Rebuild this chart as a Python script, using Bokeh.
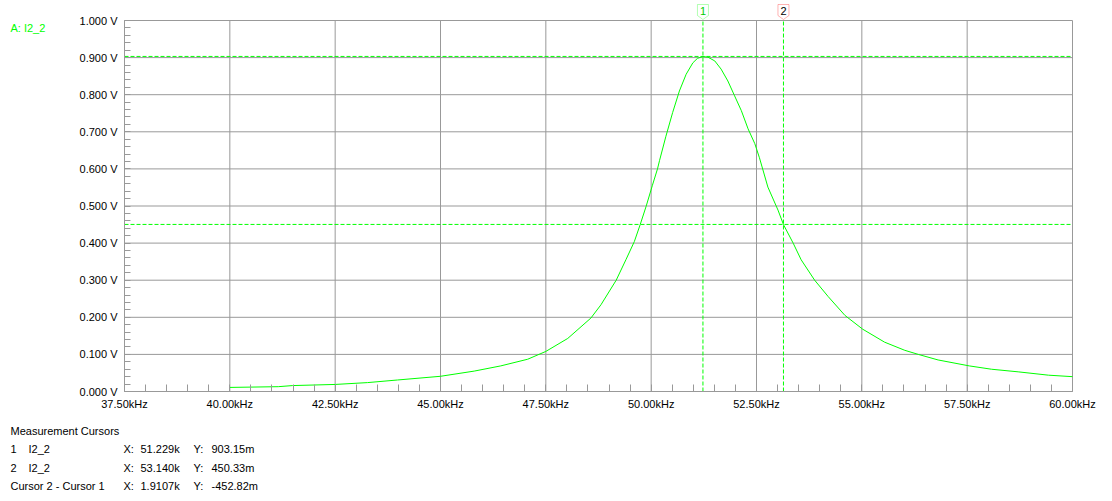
from bokeh.plotting import figure
from bokeh.models import (Range1d, FixedTicker, CustomJSTickFormatter, Label,
                          PolyAnnotation)
from bokeh.embed import file_html
from bokeh.resources import INLINE

# ---------------- data ----------------
freq_khz = [40.00, 41.15, 41.49, 42.50, 43.27, 43.98, 45.00, 45.80, 46.43, 47.07,
            47.50, 48.02, 48.57, 48.81, 49.17, 49.40, 49.60, 49.74, 49.88, 50.03,
            50.15, 50.20, 50.35, 50.51, 50.67, 50.83, 50.99, 51.10, 51.23, 51.35,
            51.51, 51.66, 51.82, 51.98, 52.14, 52.30, 52.46, 52.57, 52.77, 53.01,
            53.14, 53.37, 53.56, 53.88, 54.20, 54.60, 55.02, 55.54, 56.02,
            56.34, 56.81, 57.55, 58.08, 58.71, 59.43, 60.00]
i2_volts = [0.011, 0.013, 0.016, 0.019, 0.024, 0.031, 0.041, 0.055, 0.069, 0.087,
            0.108, 0.143, 0.198, 0.234, 0.300, 0.355, 0.404, 0.450, 0.499, 0.556,
            0.600, 0.623, 0.688, 0.752, 0.810, 0.855, 0.886, 0.898, 0.903, 0.901,
            0.891, 0.869, 0.837, 0.797, 0.757, 0.708, 0.668, 0.630, 0.551, 0.489,
            0.450, 0.400, 0.355, 0.300, 0.256, 0.205, 0.168, 0.133, 0.111,
            0.100, 0.085, 0.069, 0.060, 0.053, 0.044, 0.040]

x_major_ticks = [37.5, 40.0, 42.5, 45.0, 47.5, 50.0, 52.5, 55.0, 57.5, 60.0]
y_major_ticks = [0.0, 0.1, 0.2, 0.3, 0.4, 0.5, 0.6, 0.7, 0.8, 0.9, 1.0]

cursor_ids = ["1", "2"]
cursor_x_khz = [51.229, 53.140]
cursor_y_v = [0.90315, 0.45033]
cursor_colors = ["#00ff00", "#ff0000"]
cursor_text_colors = ["#00cc00", "#000000"]

trace_name = "A: I2_2"
table_title = "Measurement Cursors"
table_col1 = ["1", "2", "Cursor 2 - Cursor 1"]
table_col2 = ["I2_2", "I2_2", ""]
table_x = ["51.229k", "53.140k", "1.9107k"]
table_y = ["903.15m", "450.33m", "-452.82m"]

# ---------------- style / layout ----------------
GREEN = "#00ff00"
GRID = "#999999"
FONT = "Liberation Sans"
FS = "11px"

W, H = 1104, 493
PX_LEFT, PX_RIGHT = 124, 1072      # page x of 37.5 kHz and 60 kHz
PY_TOP, PY_BOT = 20, 391           # page y of 1.0 V and 0.0 V
x0, x1 = x_major_ticks[0], x_major_ticks[-1]
y0, y1 = y_major_ticks[0], y_major_ticks[-1]
kpp = (x1 - x0) / (PX_RIGHT - PX_LEFT)
vpp = (y1 - y0) / (PY_BOT - PY_TOP)

p = figure(width=W, height=H,
           x_range=Range1d(x0 - PX_LEFT * kpp, x1 + (W - PX_RIGHT) * kpp),
           y_range=Range1d(y0 - (H - PY_BOT) * vpp, y1 + PY_TOP * vpp),
           output_backend="svg", toolbar_location=None,
           min_border_left=0, min_border_right=0, min_border_top=0,
           min_border_bottom=0)
p.outline_line_color = None
p.background_fill_color = "white"
p.border_fill_color = "white"
p.grid.visible = False


def sx(page_x):
    return page_x


def sy(page_y):
    return H - page_y


# axes, fixed at the chart's own origin
x_minor = [x0 + 0.5 * i for i in range(46)]
y_minor = [round(0.02 * i, 2) for i in range(51)]
p.xaxis.ticker = FixedTicker(ticks=x_major_ticks, minor_ticks=x_minor)
p.yaxis.ticker = FixedTicker(ticks=y_major_ticks, minor_ticks=y_minor)
p.xaxis.formatter = CustomJSTickFormatter(code="return tick.toFixed(2) + 'kHz';")
p.yaxis.formatter = CustomJSTickFormatter(code="return tick.toFixed(3) + ' V';")
p.xaxis.fixed_location = y0
p.yaxis.fixed_location = x0
p.xaxis.bounds = (x0, x1)
p.yaxis.bounds = (y0, y1)

# grid lines from the tick values
p.segment(x0=x_major_ticks, y0=[y0] * len(x_major_ticks),
          x1=x_major_ticks, y1=[y1] * len(x_major_ticks),
          line_color=GRID, line_width=1)
p.segment(x0=[x0] * len(y_major_ticks), y0=y_major_ticks,
          x1=[x1] * len(y_major_ticks), y1=y_major_ticks,
          line_color=GRID, line_width=1)

for ax in (p.xaxis, p.yaxis):
    ax.axis_line_color = GRID
    ax.major_tick_in = 0
    ax.major_tick_out = 0
    ax.minor_tick_out = 0
    ax.minor_tick_line_color = GRID
    ax.major_label_text_font = FONT
    ax.major_label_text_font_size = FS
    ax.major_label_text_color = "black"
p.xaxis.minor_tick_in = 7
p.yaxis.minor_tick_in = 6
p.yaxis.major_label_standoff = 7
p.xaxis.major_label_standoff = 6

# curve
p.line(freq_khz, i2_volts, line_color=GREEN, line_width=1)

# cursors
for cx, cy in zip(cursor_x_khz, cursor_y_v):
    p.segment(x0=[cx], y0=[y0], x1=[cx], y1=[y1], line_color=GREEN,
              line_dash="4 2", line_width=1)
    p.segment(x0=[x0], y0=[cy], x1=[x1], y1=[cy], line_color=GREEN,
              line_dash="4 2", line_width=1)

# cursor flags above the plot
hw = 5.5 * kpp
for cid, cx, col, tcol in zip(cursor_ids, cursor_x_khz, cursor_colors, cursor_text_colors):
    p.add_layout(PolyAnnotation(
        xs=[cx - hw, cx + hw, cx + hw, cx, cx - hw],
        ys=[sy(4), sy(4), sy(15), sy(19), sy(15)], xs_units="data", ys_units="screen",
        fill_color="white", fill_alpha=1.0, line_color=col, line_width=1))
    p.add_layout(Label(x=cx, y=sy(10), x_units="data", y_units="screen", text=cid,
                       text_font=FONT, text_font_size="11px", text_color=tcol,
                       text_align="center", text_baseline="middle"))

# trace name
p.add_layout(Label(x=sx(10), y=sy(27), x_units="screen", y_units="screen",
                   text=trace_name, text_font=FONT, text_font_size=FS,
                   text_color=GREEN, text_baseline="middle"))

# measurement table
p.add_layout(Label(x=sx(10), y=sy(430), x_units="screen", y_units="screen",
                   text=table_title, text_font=FONT, text_font_size=FS,
                   text_color="black", text_baseline="middle"))
row_y = [448, 467, 485]
for ry, c1, c2, cxs, cys in zip(row_y, table_col1, table_col2, table_x, table_y):
    for xx, t in ((10, c1), (28, c2), (123, "X:"), (140, cxs), (193, "Y:"), (211, cys)):
        if t:
            p.add_layout(Label(x=sx(xx), y=sy(ry), x_units="screen", y_units="screen",
                               text=t, text_font=FONT, text_font_size=FS,
                               text_color="black", text_baseline="middle"))

open("out.html", "w").write(file_html(p, INLINE))
